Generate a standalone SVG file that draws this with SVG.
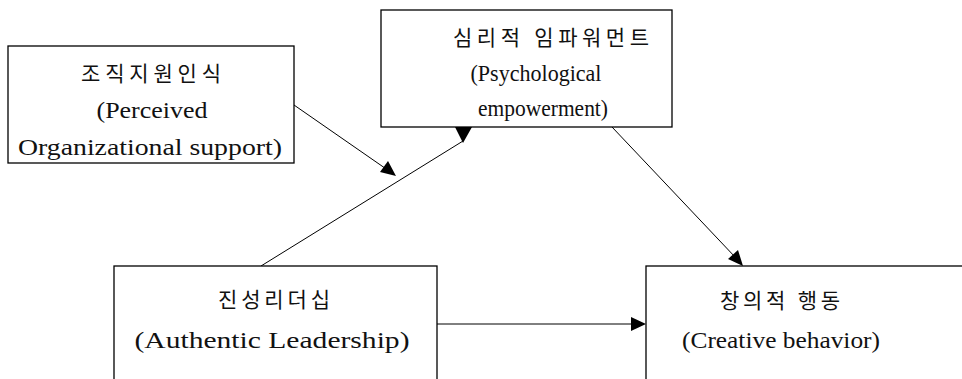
<svg xmlns="http://www.w3.org/2000/svg" width="962" height="379" viewBox="0 0 962 379">
<style>
.box{fill:#fff;stroke:#000;stroke-width:1.3}
.ko{font-family:"Liberation Serif","Noto Sans CJK KR",serif;font-size:21px;fill:#111;text-anchor:middle}
.en{font-family:"Liberation Serif","Noto Sans CJK KR",serif;font-size:23px;fill:#111;text-anchor:middle}
.ln{stroke:#000;stroke-width:1;fill:none}
.ah{fill:#000}
</style>
<rect width="962" height="379" fill="#fff"/>
<g id="connectors">
<line class="ln" x1="294" y1="105" x2="392" y2="173"/>
<polygon class="ah" points="396,176 380,172 388,161"/>
<line class="ln" x1="261" y1="266" x2="463" y2="141"/>
<polygon class="ah" points="455,127 472,127 463,143"/>
<line class="ln" x1="612" y1="127" x2="736" y2="258"/>
<polygon class="ah" points="743,266 728,259 738,250"/>
<line class="ln" x1="437" y1="324" x2="632" y2="324"/>
<polygon class="ah" points="646,324 631,317 631,331"/>
</g>
<g id="n1">
<rect class="box" x="8" y="46" width="286" height="117"/>
<text class="ko" x="151" y="81" textLength="140">조직지원인식</text>
<text class="en" x="152" y="118" textLength="111" lengthAdjust="spacingAndGlyphs">(Perceived</text>
<text class="en" x="150" y="155" textLength="264" lengthAdjust="spacingAndGlyphs">Organizational  support)</text>
</g>
<g id="n2">
<rect class="box" x="381" y="10" width="291" height="117"/>
<text class="ko" x="551" y="45" textLength="196">심리적 임파워먼트</text>
<text class="en" x="536" y="81" textLength="131" lengthAdjust="spacingAndGlyphs">(Psychological</text>
<text class="en" x="543" y="116" textLength="130" lengthAdjust="spacingAndGlyphs">empowerment)</text>
</g>
<g id="n3">
<rect class="box" x="114" y="266" width="323" height="120"/>
<text class="ko" x="274" y="307" textLength="112">진성리더십</text>
<text class="en" x="272" y="348" textLength="275" lengthAdjust="spacingAndGlyphs">(Authentic  Leadership)</text>
</g>
<g id="n4">
<rect class="box" x="646" y="266" width="330" height="120"/>
<text class="ko" x="780" y="308" textLength="120">창의적 행동</text>
<text class="en" x="781" y="348" textLength="198" lengthAdjust="spacingAndGlyphs">(Creative  behavior)</text>
</g>
</svg>
